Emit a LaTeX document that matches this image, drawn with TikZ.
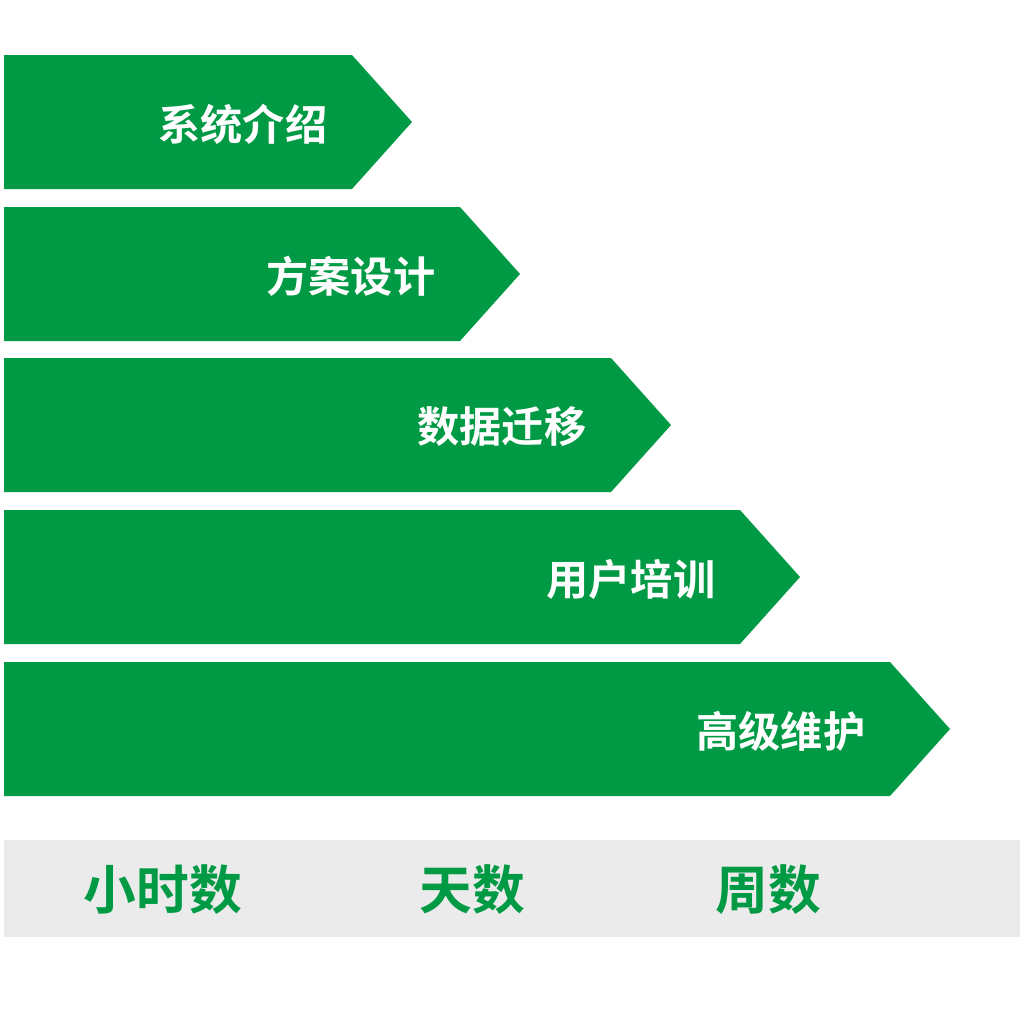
\documentclass[tikz,border=0pt]{standalone}
\usepackage{fontspec}
\newfontfamily\cjk{Noto Sans CJK SC Bold}
\definecolor{barGreen}{HTML}{009A44}
\definecolor{scaleGray}{HTML}{EBEBEB}

\begin{document}
\begin{tikzpicture}[
        x=0.01cm, y=-0.01cm,
        every node/.style={font=\cjk\fontsize{12}{14}\selectfont, inner sep=0pt},
        stage/.style={text=white, anchor=east},
        scale label/.style={text=barGreen, font=\cjk\fontsize{15}{18}\selectfont}
    ]
  \useasboundingbox (0,0) rectangle (1024,1024);

  % Arrows
  \foreach \top/\body/\name/\txt in {55/352/intro/系统介绍, 207/460/design/方案设计,
      358/611/migrate/数据迁移, 510/740/train/用户培训, 662/890/support/高级维护} {
    \fill[barGreen] (4,\top) -- (\body,\top) -- (\body+60,\top+67) -- (\body,\top+134)
      -- (4,\top+134) -- cycle;
    \node[stage] (\name) at (\body-24,\top+69) {\txt};
  }

  % Scale
  \fill[scaleGray] (4,840) rectangle (1020,937);
  \node[scale label] (hours) at (163,890) {小时数};
  \node[scale label] (days) at (472,890) {天数};
  \node[scale label] (weeks) at (768,890) {周数};
\end{tikzpicture}
\end{document}
